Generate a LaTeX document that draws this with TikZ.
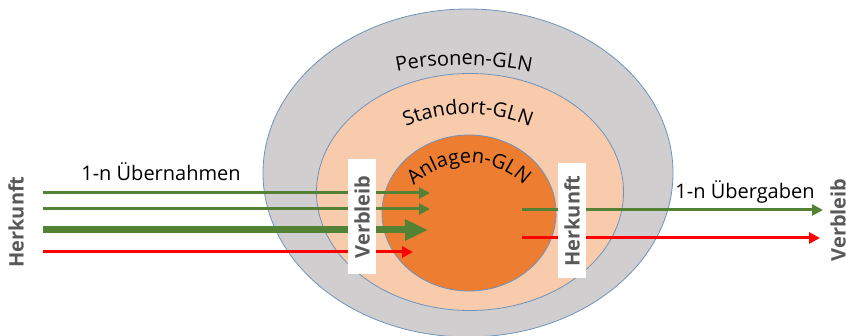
\documentclass[tikz,border=0pt]{standalone}
\usepackage{fontspec}
\setmainfont{Open Sans}
\usepackage{tikz}
\usetikzlibrary{shapes.geometric,arrows.meta,decorations.text}

\definecolor{grauflaeche}{HTML}{D0CECE}
\definecolor{pfirsich}{HTML}{F8CBAD}
\definecolor{orange}{HTML}{ED7D31}
\definecolor{rand}{HTML}{6F93BC}
\definecolor{gruen}{HTML}{548235}
\definecolor{rot}{HTML}{FF0000}
\definecolor{grautext}{HTML}{595959}

\newcommand{\glnfont}{\fontsize{20}{23}\selectfont}

\tikzset{
    gln/.style={ellipse, draw=rand, line width=0.8pt, inner sep=0pt},
    fluss/.style={line width=3pt, -{Triangle[length=11pt,width=11pt]}},
    flussdick/.style={line width=7pt, -{Triangle[length=23pt,width=20pt]}},
    kasten/.style={fill=white, rotate=90, inner sep=0pt, minimum width=115pt,
        minimum height=28pt, text=grautext, font=\fontsize{20}{22}\selectfont\bfseries},
    seite/.style={rotate=90, inner sep=0pt, text=grautext, font=\fontsize{20}{22}\selectfont\bfseries},
    bogen/.style={decorate, decoration={text along path, text align=center}}
}

\begin{document}
\begin{tikzpicture}[x=1pt, y=-1pt]
    \useasboundingbox (0,0) rectangle (846,336);

    % GLN-Ebenen
    \node[gln, fill=grauflaeche, minimum width=410pt, minimum height=328pt] (personen) at (468,173) {};
    \node[gln, fill=pfirsich, minimum width=307pt, minimum height=237pt] (standort) at (470,192) {};
    \node[gln, fill=orange, minimum width=174pt, minimum height=156pt] (anlagen) at (469,213) {};

    \path[bogen, decoration={text={|\glnfont|Personen-GLN}}]
        (464,398) ++(-115:333) arc[start angle=-115, end angle=-65, radius=333];
    \path[bogen, decoration={text={|\glnfont|Standort-GLN}}]
        (468,274) ++(-130:160) arc[start angle=-130, end angle=-50, radius=160];
    \path[bogen, decoration={text={|\glnfont|Anlagen-GLN}}]
        (469,241) ++(-170:78) arc[start angle=-170, end angle=-10, radius=78];

    % Uebernahmen
    \coordinate (ein1) at (43,193);
    \coordinate (ein2) at (43,209);
    \coordinate (ein3) at (43,230);
    \coordinate (ein4) at (43,252);
    \coordinate (ziel1) at (430,193);
    \coordinate (ziel2) at (430,209);
    \coordinate (ziel3) at (428,230);
    \coordinate (ziel4) at (413,252);
    \draw[fluss, gruen] (ein1) -- (ziel1);
    \draw[fluss, gruen] (ein2) -- (ziel2);
    \draw[flussdick, gruen] (ein3) -- (ziel3);
    \draw[fluss, rot] (ein4) -- (ziel4);

    % Uebergaben
    \coordinate (aus1) at (522,210);
    \coordinate (aus2) at (522,238);
    \coordinate (ende1) at (823,210);
    \coordinate (ende2) at (820,238);
    \draw[fluss, gruen] (aus1) -- (ende1);
    \draw[fluss, rot] (aus2) -- (ende2);

    \node[kasten] (verbleibin) at (362,217) {Verbleib};
    \node[kasten] (herkunftin) at (572,221) {Herkunft};

    \node[seite] (herkunft) at (16,222) {Herkunft};
    \node[seite] (verbleib) at (838,220) {Verbleib};

    \node[font=\glnfont] (uebernahmen) at (161,172) {1-n Übernahmen};
    \node[font=\glnfont] (uebergaben) at (745,192) {1-n Übergaben};
\end{tikzpicture}
\end{document}
